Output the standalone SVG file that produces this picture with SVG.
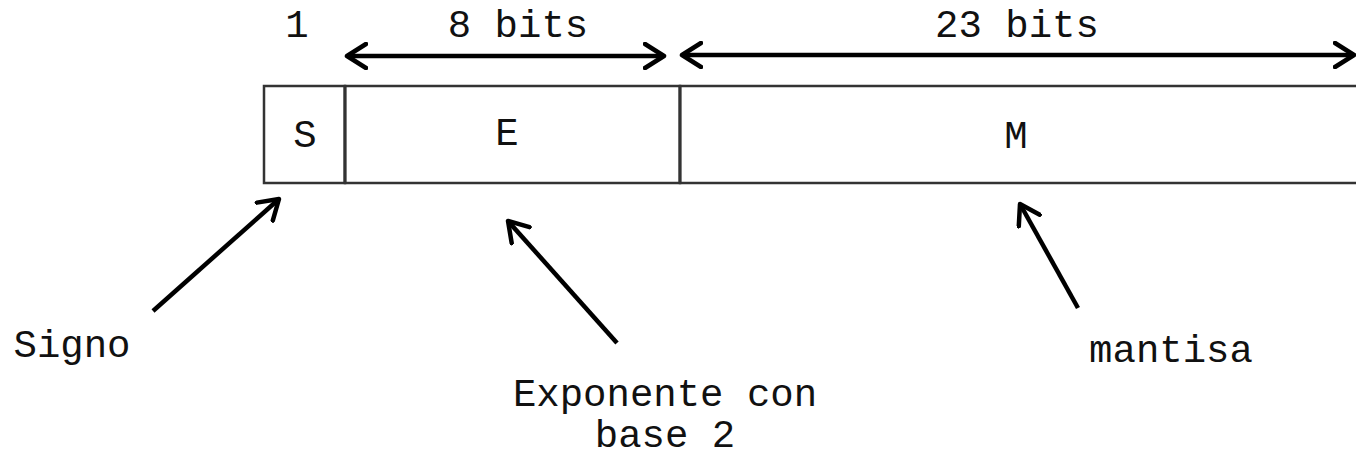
<svg xmlns="http://www.w3.org/2000/svg" width="1356" height="457" viewBox="0 0 1356 457">
  <defs>
    <marker id="chev" viewBox="0 0 24 28" refX="21" refY="14" markerWidth="24" markerHeight="28" markerUnits="userSpaceOnUse" orient="auto-start-reverse">
      <path d="M2,2 L21,14 L2,26" fill="none" stroke="#000" stroke-width="4.5" stroke-linecap="round" stroke-linejoin="round"/>
    </marker>
    <style>
      .txt { font-family: "Liberation Mono", "Courier New", monospace; font-size: 39px; fill: #111; }
      .cell { fill: #fff; stroke: #333; stroke-width: 2.5; }
      .div { stroke: #333; stroke-width: 3; }
      .dim { stroke: #000; stroke-width: 4.5; fill: none; marker-start: url(#chev); marker-end: url(#chev); }
      .ptr { stroke: #000; stroke-width: 4.5; fill: none; marker-end: url(#chev); }
    </style>
  </defs>

  <!-- bit field boxes -->
  <g id="field-s">
    <rect class="cell" x="264" y="86" width="81" height="97"/>
    <text class="txt" x="305" y="147" text-anchor="middle">S</text>
  </g>
  <g id="field-e">
    <rect class="cell" x="345" y="86" width="335" height="97"/>
    <text class="txt" x="507" y="145" text-anchor="middle">E</text>
  </g>
  <g id="field-m">
    <rect class="cell" x="680" y="86" width="700" height="97"/>
    <text class="txt" x="1016" y="148" text-anchor="middle">M</text>
  </g>
  <line class="div" x1="345" y1="86" x2="345" y2="183"/>
  <line class="div" x1="680" y1="86" x2="680" y2="183"/>

  <!-- width labels -->
  <g id="label-1"><text class="txt" x="297" y="37" text-anchor="middle">1</text></g>
  <g id="label-8bits"><text class="txt" x="518" y="37" text-anchor="middle">8 bits</text></g>
  <g id="label-23bits"><text class="txt" x="1017" y="37" text-anchor="middle">23 bits</text></g>

  <!-- descriptive labels -->
  <g id="label-signo"><text class="txt" x="72" y="357" text-anchor="middle">Signo</text></g>
  <g id="label-exponente">
    <text class="txt" x="665" y="406" text-anchor="middle">Exponente con</text>
    <text class="txt" x="665" y="447" text-anchor="middle">base 2</text>
  </g>
  <g id="label-mantisa"><text class="txt" x="1171" y="362" text-anchor="middle">mantisa</text></g>

  <!-- connectors -->
  <g id="connectors">
    <line class="dim" x1="347" y1="56" x2="664" y2="56"/>
    <line class="dim" x1="682" y1="55" x2="1354" y2="55"/>
    <line class="ptr" x1="153" y1="311" x2="279" y2="199"/>
    <line class="ptr" x1="617" y1="343" x2="508" y2="221"/>
    <line class="ptr" x1="1078" y1="308" x2="1020" y2="204"/>
  </g>
</svg>
